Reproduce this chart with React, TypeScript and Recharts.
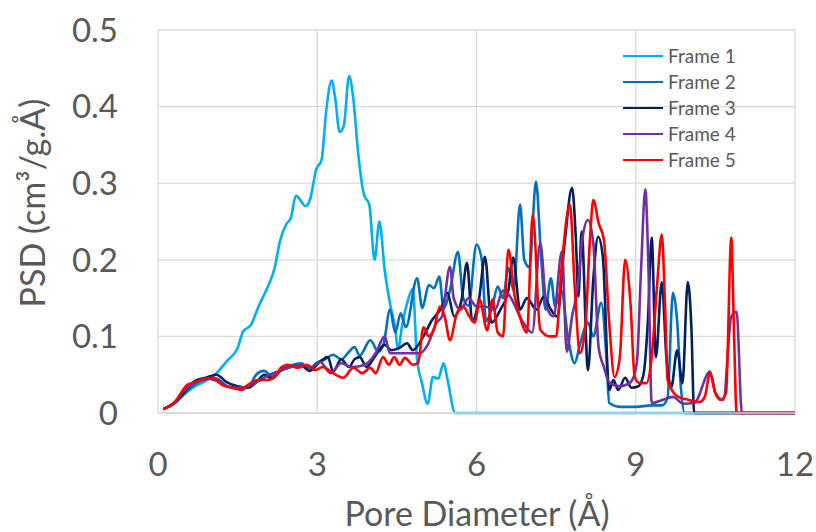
import React from 'react';
import { LineChart, Line, XAxis, YAxis, CartesianGrid, Legend } from 'recharts';

// pore diameter (Å) vs PSD (cm³/g.Å)
const frame1: [number, number][] = [
  [0.1, 0.005], [0.3, 0.012], [0.5, 0.025], [0.7, 0.035], [0.9, 0.042], [1.1, 0.052],
  [1.3, 0.068], [1.5, 0.085], [1.6, 0.106], [1.75, 0.115], [1.9, 0.14], [2.05, 0.162],
  [2.2, 0.19], [2.3, 0.225], [2.42, 0.247], [2.5, 0.254], [2.6, 0.284], [2.7, 0.276],
  [2.78, 0.27], [2.87, 0.28], [2.98, 0.318], [3.08, 0.33], [3.17, 0.395], [3.27, 0.434],
  [3.34, 0.41], [3.42, 0.367], [3.5, 0.375], [3.6, 0.44], [3.68, 0.41], [3.77, 0.34],
  [3.88, 0.285], [3.98, 0.272], [4.08, 0.2], [4.17, 0.25], [4.27, 0.187], [4.37, 0.143],
  [4.47, 0.11], [4.52, 0.083], [4.6, 0.115], [4.7, 0.145], [4.8, 0.162], [4.88, 0.07],
  [4.97, 0.04], [5.08, 0.012], [5.18, 0.047], [5.28, 0.045], [5.38, 0.065], [5.45, 0.045],
  [5.6, 0], [12, 0],
];

const frame2: [number, number][] = [
  [0.1, 0.005], [0.3, 0.012], [0.5, 0.025], [0.7, 0.038], [0.9, 0.044], [1.1, 0.045],
  [1.3, 0.035], [1.5, 0.032], [1.7, 0.034], [1.85, 0.05], [2.0, 0.055], [2.15, 0.048],
  [2.3, 0.055], [2.5, 0.062], [2.7, 0.065], [2.85, 0.058], [3.0, 0.066], [3.15, 0.07],
  [3.3, 0.076], [3.45, 0.07], [3.6, 0.08], [3.7, 0.086], [3.8, 0.075], [4.0, 0.095],
  [4.15, 0.08], [4.25, 0.09], [4.37, 0.135], [4.47, 0.105], [4.57, 0.13], [4.67, 0.112],
  [4.88, 0.176], [4.98, 0.137], [5.1, 0.167], [5.2, 0.163], [5.3, 0.178], [5.38, 0.137],
  [5.5, 0.16], [5.65, 0.21], [5.75, 0.15], [5.85, 0.14], [6.0, 0.22], [6.1, 0.2],
  [6.18, 0.12], [6.3, 0.14], [6.4, 0.165], [6.5, 0.15], [6.6, 0.19], [6.7, 0.16],
  [6.82, 0.272], [6.9, 0.2], [7.0, 0.19], [7.12, 0.302], [7.22, 0.2], [7.3, 0.135],
  [7.4, 0.176], [7.48, 0.14], [7.6, 0.16], [7.72, 0.1], [7.85, 0.065], [7.95, 0.09],
  [8.1, 0.118], [8.2, 0.1], [8.35, 0.144], [8.45, 0.07], [8.5, 0.013], [8.7, 0.008],
  [9.0, 0.008], [9.3, 0.01], [9.5, 0.01], [9.6, 0.02], [9.7, 0.157], [9.78, 0.12],
  [9.85, 0.034], [9.92, 0], [12, 0],
];

const frame3: [number, number][] = [
  [0.1, 0.005], [0.3, 0.013], [0.5, 0.028], [0.7, 0.042], [0.9, 0.046], [1.1, 0.05],
  [1.3, 0.04], [1.5, 0.035], [1.7, 0.033], [1.85, 0.04], [2.0, 0.05], [2.15, 0.045],
  [2.3, 0.055], [2.5, 0.06], [2.7, 0.062], [2.85, 0.055], [3.05, 0.067], [3.2, 0.073],
  [3.3, 0.054], [3.45, 0.07], [3.6, 0.06], [3.7, 0.07], [3.8, 0.073], [3.93, 0.06],
  [4.05, 0.07], [4.27, 0.089], [4.4, 0.082], [4.55, 0.085], [4.69, 0.091], [4.8, 0.082],
  [5.0, 0.1], [5.15, 0.12], [5.35, 0.139], [5.45, 0.157], [5.58, 0.126], [5.72, 0.148],
  [5.82, 0.196], [5.92, 0.12], [6.05, 0.15], [6.16, 0.204], [6.28, 0.118], [6.45, 0.135],
  [6.6, 0.16], [6.69, 0.203], [6.82, 0.135], [6.95, 0.15], [7.13, 0.135], [7.27, 0.152],
  [7.4, 0.135], [7.52, 0.126], [7.66, 0.222], [7.8, 0.294], [7.87, 0.23], [7.92, 0.152],
  [7.98, 0.237], [8.1, 0.056], [8.2, 0.174], [8.29, 0.23], [8.38, 0.204], [8.5, 0.03],
  [8.58, 0.043], [8.67, 0.03], [8.8, 0.046], [8.92, 0.033], [9.05, 0.035], [9.15, 0.052],
  [9.23, 0.122], [9.3, 0.229], [9.38, 0.073], [9.49, 0.171], [9.58, 0.07], [9.67, 0.034],
  [9.78, 0.082], [9.88, 0.039], [9.98, 0.171], [10.05, 0.108], [10.1, 0], [12, 0],
];

const frame4: [number, number][] = [
  [0.1, 0.005], [0.3, 0.013], [0.5, 0.03], [0.7, 0.04], [0.9, 0.045], [1.1, 0.042],
  [1.3, 0.035], [1.5, 0.033], [1.7, 0.035], [1.9, 0.042], [2.1, 0.05], [2.3, 0.055],
  [2.5, 0.06], [2.7, 0.063], [2.9, 0.06], [3.05, 0.067], [3.25, 0.052], [3.45, 0.065],
  [3.65, 0.06], [3.9, 0.063], [4.1, 0.078], [4.27, 0.1], [4.37, 0.078], [4.6, 0.078],
  [4.8, 0.078], [4.93, 0.078], [5.08, 0.089], [5.25, 0.118], [5.35, 0.126], [5.5, 0.191],
  [5.57, 0.15], [5.7, 0.135], [5.85, 0.15], [6.0, 0.139], [6.15, 0.139], [6.35, 0.135],
  [6.5, 0.16], [6.6, 0.155], [6.88, 0.118], [7.05, 0.105], [7.2, 0.222], [7.32, 0.139],
  [7.45, 0.126], [7.61, 0.211], [7.7, 0.08], [7.8, 0.126], [7.9, 0.16], [8.0, 0.23],
  [8.1, 0.252], [8.2, 0.222], [8.3, 0.086], [8.4, 0.06], [8.5, 0.04], [8.7, 0.035],
  [8.9, 0.04], [9.02, 0.065], [9.1, 0.187], [9.18, 0.292], [9.24, 0.187], [9.3, 0.013],
  [9.5, 0.017], [9.7, 0.021], [9.9, 0.012], [10.1, 0.013], [10.4, 0.054], [10.5, 0.026],
  [10.65, 0.017], [10.8, 0.126], [10.9, 0.132], [11.0, 0], [12, 0],
];

const frame5: [number, number][] = [
  [0.1, 0.005], [0.3, 0.013], [0.56, 0.037], [0.7, 0.04], [0.89, 0.044], [1.04, 0.046],
  [1.2, 0.037], [1.4, 0.033], [1.58, 0.03], [1.7, 0.037], [1.88, 0.043], [2.05, 0.043],
  [2.24, 0.05], [2.3, 0.058], [2.45, 0.063], [2.63, 0.059], [2.8, 0.063], [2.96, 0.056],
  [3.1, 0.06], [3.3, 0.052], [3.49, 0.046], [3.68, 0.059], [3.85, 0.052], [4.0, 0.059],
  [4.1, 0.052], [4.24, 0.073], [4.35, 0.063], [4.45, 0.073], [4.55, 0.063], [4.65, 0.072],
  [4.8, 0.063], [4.9, 0.065], [5.0, 0.112], [5.1, 0.1], [5.2, 0.11], [5.31, 0.139],
  [5.4, 0.126], [5.5, 0.095], [5.63, 0.13], [5.75, 0.139], [5.85, 0.128], [5.97, 0.118],
  [6.06, 0.148], [6.2, 0.108], [6.3, 0.148], [6.4, 0.105], [6.5, 0.1], [6.6, 0.213],
  [6.72, 0.152], [6.8, 0.13], [6.95, 0.105], [7.06, 0.259], [7.2, 0.109], [7.38, 0.1],
  [7.5, 0.1], [7.6, 0.187], [7.76, 0.272], [7.85, 0.165], [7.95, 0.078], [8.05, 0.112],
  [8.14, 0.23], [8.2, 0.278], [8.3, 0.248], [8.4, 0.226], [8.5, 0.118], [8.6, 0.047],
  [8.7, 0.073], [8.8, 0.2], [8.9, 0.144], [8.98, 0.047], [9.08, 0.039], [9.2, 0.039],
  [9.3, 0.073], [9.4, 0.165], [9.49, 0.233], [9.55, 0.144], [9.6, 0.043], [9.8, 0.021],
  [10.0, 0.017], [10.2, 0.014], [10.3, 0.021], [10.4, 0.052], [10.5, 0.026], [10.6, 0.017],
  [10.7, 0.026], [10.8, 0.229], [10.85, 0.108], [10.9, 0], [12, 0],
];

const seriesNames = ['Frame 1', 'Frame 2', 'Frame 3', 'Frame 4', 'Frame 5'];
const xTicks = [0, 3, 6, 9, 12];
const yTicks = [0, 0.1, 0.2, 0.3, 0.4, 0.5];

const colors = ['#00b0f0', '#0070c0', '#002060', '#7030a0', '#ff0000'];
const FONT = 'Lato, "Open Sans", sans-serif';
const TEXT = '#595959';

const toPoints = (arr: [number, number][]) => arr.map(([x, y]) => ({ x, y }));
const allFrames = [frame1, frame2, frame3, frame4, frame5].map(toPoints);

const renderLegend = () => (
  <div style={{ fontFamily: FONT }}>
    {seriesNames.map((name, i) => (
      <div key={name} style={{ display: 'flex', alignItems: 'center', height: 26 }}>
        <div style={{ width: 40, height: 2.5, background: colors[i] }} />
        <span style={{ marginLeft: 5, fontSize: 19, color: TEXT, lineHeight: '26px' }}>{name}</span>
      </div>
    ))}
  </div>
);

const YTitle = () => (
  <text
    x={45}
    y={203}
    transform="rotate(-90 45 203)"
    textAnchor="middle"
    fill={TEXT}
    fontSize={34}
    fontFamily={FONT}
  >
    PSD (cm³/g.Å)
  </text>
);

const XTitle = () => (
  <text x={477} y={526} textAnchor="middle" fill={TEXT} fontSize={34} fontFamily={FONT}>
    Pore Diameter (Å)
  </text>
);

export default function App() {
  return (
    <div style={{ position: 'absolute', left: 0, top: 0 }}>
      <LineChart
        width={816}
        height={532}
        margin={{ top: 30, right: 21, bottom: 0, left: 0 }}
        style={{ background: '#fff' }}
      >
        <CartesianGrid stroke="#d9d9d9" strokeWidth={1.3} />
        <XAxis
          type="number"
          dataKey="x"
          domain={[0, 12]}
          ticks={xTicks}
          allowDuplicatedCategory={false}
          tickLine={false}
          tickSize={0}
          tickMargin={40}
          axisLine={{ stroke: '#d9d9d9', strokeWidth: 1.3 }}
          tick={{ fill: TEXT, fontSize: 33, fontFamily: FONT }}
          height={119}
          label={{ content: <XTitle /> }}
        />
        <YAxis
          type="number"
          domain={[0, 0.5]}
          ticks={yTicks}
          width={158}
          tickLine={false}
          tickSize={0}
          tickMargin={40}
          axisLine={false}
          tick={{ fill: TEXT, fontSize: 33, fontFamily: FONT }}
          label={{ content: <YTitle /> }}
        />
        <Legend
          layout="horizontal"
          verticalAlign="middle"
          align="center"
          content={renderLegend}
          wrapperStyle={{ top: 43, left: 623, width: 160 }}
        />
        {allFrames.map((pts, i) => (
          <Line
            key={seriesNames[i]}
            data={pts}
            dataKey="y"
            name={seriesNames[i]}
            type="monotone"
            stroke={colors[i]}
            strokeWidth={2.6}
            dot={false}
            isAnimationActive={false}
          />
        ))}
      </LineChart>
    </div>
  );
}
